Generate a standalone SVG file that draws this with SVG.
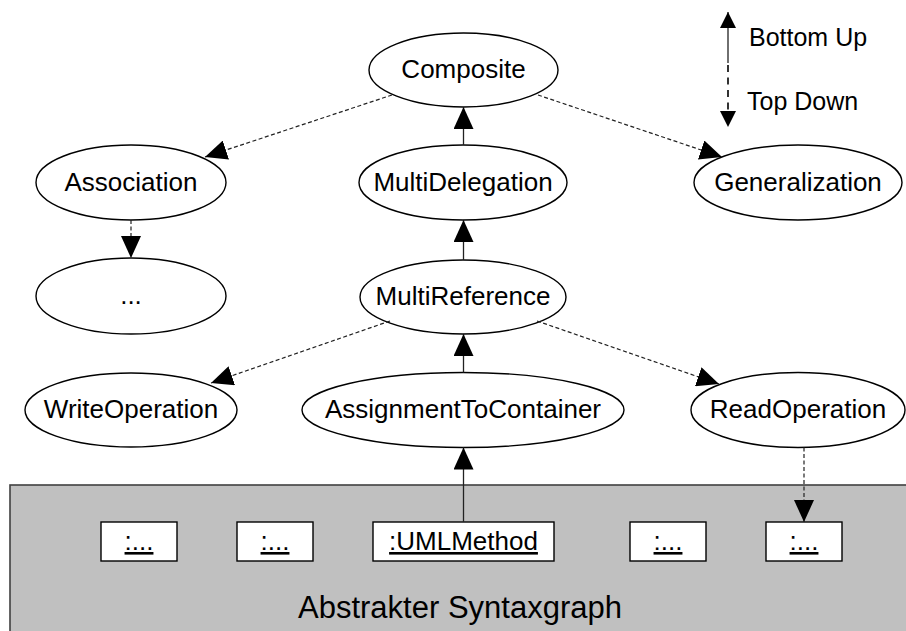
<svg xmlns="http://www.w3.org/2000/svg" width="906" height="631" viewBox="0 0 906 631">
  <style>
    .node ellipse { fill: #ffffff; stroke: #000000; stroke-width: 1.4; }
    .obj rect { fill: #ffffff; stroke: #000000; stroke-width: 1.4; }
    text { font-family: "Liberation Sans", Arial, sans-serif; fill: #000000; }
    .lbl { font-size: 26px; text-anchor: middle; }
    .u { text-decoration: underline; }
    .solid { stroke: #222222; stroke-width: 1.3; fill: none; }
    .dash { stroke: #222222; stroke-width: 1.2; fill: none; stroke-dasharray: 4 2.5; }
    .legdash { stroke: #000000; stroke-width: 1.6; fill: none; stroke-dasharray: 7 5.5; }
  </style>
  <defs>
    <marker id="head" viewBox="0 0 22 20" refX="22" refY="10" markerWidth="22" markerHeight="20" markerUnits="userSpaceOnUse" orient="auto">
      <path d="M0,0 L22,10 L0,20 z" fill="#000000"/>
    </marker>
    <marker id="headSmall" viewBox="0 0 16 16" refX="16" refY="8" markerWidth="16" markerHeight="16" markerUnits="userSpaceOnUse" orient="auto">
      <path d="M0,0 L16,8 L0,16 z" fill="#000000"/>
    </marker>
  </defs>

  <!-- abstract syntax graph panel -->
  <g id="syntaxgraph">
    <rect x="10" y="485" width="910" height="160" fill="#c0c0c0" stroke="#404040" stroke-width="1.6"/>
    <text class="lbl" x="460" y="618" style="font-size:31px">Abstrakter Syntaxgraph</text>
  </g>

  <!-- object boxes -->
  <g id="obj1" class="obj"><rect x="101" y="522" width="76" height="39"/><text class="lbl u" x="139" y="550">:...</text></g>
  <g id="obj2" class="obj"><rect x="237" y="522" width="76" height="39"/><text class="lbl u" x="275" y="550">:...</text></g>
  <g id="umlmethod" class="obj"><rect x="373" y="522" width="181" height="39"/><text class="lbl u" x="463.5" y="550">:UMLMethod</text></g>
  <g id="obj4" class="obj"><rect x="630" y="522" width="76" height="39"/><text class="lbl u" x="668" y="550">:...</text></g>
  <g id="obj5" class="obj"><rect x="766" y="522" width="76" height="39"/><text class="lbl u" x="804" y="550">:...</text></g>

  <!-- pattern nodes -->
  <g id="composite" class="node"><ellipse cx="463.5" cy="70" rx="94.5" ry="37"/><text class="lbl" x="463.5" y="78">Composite</text></g>
  <g id="association" class="node"><ellipse cx="131" cy="182.5" rx="95" ry="37.5"/><text class="lbl" x="131" y="191">Association</text></g>
  <g id="multidelegation" class="node"><ellipse cx="463" cy="182.5" rx="104" ry="37.5"/><text class="lbl" x="463" y="191">MultiDelegation</text></g>
  <g id="generalization" class="node"><ellipse cx="798" cy="182.5" rx="104" ry="37.5"/><text class="lbl" x="798" y="191">Generalization</text></g>
  <g id="ellipsis" class="node"><ellipse cx="131" cy="296" rx="95" ry="38"/><text class="lbl" x="131" y="304">...</text></g>
  <g id="multireference" class="node"><ellipse cx="463" cy="297" rx="103" ry="37"/><text class="lbl" x="463" y="305">MultiReference</text></g>
  <g id="writeoperation" class="node"><ellipse cx="131" cy="410" rx="106" ry="37"/><text class="lbl" x="131" y="418">WriteOperation</text></g>
  <g id="assignmenttocontainer" class="node"><ellipse cx="463" cy="410" rx="161" ry="37.5"/><text class="lbl" x="463" y="418">AssignmentToContainer</text></g>
  <g id="readoperation" class="node"><ellipse cx="798" cy="410" rx="107" ry="37.5"/><text class="lbl" x="798" y="418">ReadOperation</text></g>

  <!-- connectors -->
  <g id="connectors">
    <line class="solid" x1="463.5" y1="145" x2="463.5" y2="107" marker-end="url(#head)"/>
    <line class="solid" x1="463.5" y1="260" x2="463.5" y2="220" marker-end="url(#head)"/>
    <line class="solid" x1="463.5" y1="372.5" x2="463.5" y2="334" marker-end="url(#head)"/>
    <line class="solid" x1="463.5" y1="522" x2="463.5" y2="447.5" marker-end="url(#head)"/>
    <line class="dash" x1="392" y1="95" x2="205" y2="157" marker-end="url(#head)"/>
    <line class="dash" x1="538" y1="95" x2="722" y2="157" marker-end="url(#head)"/>
    <line class="dash" x1="131" y1="220" x2="131" y2="258" marker-end="url(#head)"/>
    <line class="dash" x1="390" y1="321" x2="211" y2="383" marker-end="url(#head)"/>
    <line class="dash" x1="537" y1="321" x2="719" y2="384" marker-end="url(#head)"/>
    <line class="dash" x1="804" y1="447.5" x2="804" y2="522" marker-end="url(#head)"/>
  </g>

  <!-- direction legend -->
  <g id="legend">
    <line class="solid" x1="728" y1="63" x2="728" y2="12" stroke-width="1.6" marker-end="url(#headSmall)"/>
    <line class="legdash" x1="728" y1="65" x2="728" y2="127" marker-end="url(#headSmall)"/>
    <text x="749" y="46" style="font-size:25px">Bottom Up</text>
    <text x="747" y="110" style="font-size:25px">Top Down</text>
  </g>
</svg>
